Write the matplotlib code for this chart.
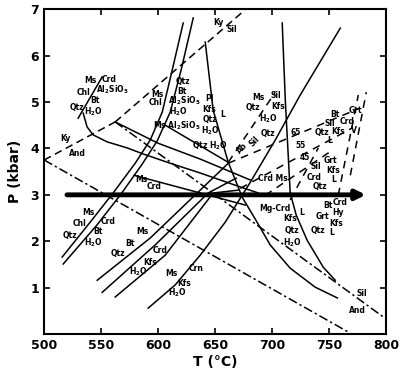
import matplotlib
matplotlib.use('Agg')
import matplotlib.pyplot as plt

plt.rcParams['font.family'] = ['Liberation Sans Narrow', 'DejaVu Sans Condensed', 'DejaVu Sans']
plt.rcParams['font.weight'] = 'bold'
plt.rcParams['mathtext.default'] = 'regular'

# aluminosilicate reactions (T in C, P in kbar)
ky_and_T = [500, 562.3]
ky_and_P = [3.75, 4.57]
ky_sil_T = [562.3, 676]
ky_sil_P = [4.57, 6.98]
and_sil_T = [562.3, 799]
and_sil_P = [4.57, 0.34]
and_sil2_T = [500, 767]
and_sil2_P = [3.75, 0.04]

# solid reaction curves
ms_chl_a_T = [515.8, 540.3, 560.5, 579.8, 593.0, 603.5, 612.3, 621.9]
ms_chl_a_P = [1.66, 2.41, 3.04, 3.68, 4.18, 4.78, 5.69, 6.70]
ms_chl_b_T = [516.7, 545.6, 567.5, 585.9, 599.1, 610.5, 620.1, 630.7]
ms_chl_b_P = [1.51, 2.33, 3.02, 3.66, 4.16, 4.78, 5.69, 6.81]
short_T = [529.8, 550.9]
short_P = [4.65, 5.54]
curve_c3_T = [534.2, 537.7, 543.0, 555.3, 572.8, 586.8, 610.5, 636.8, 671.9, 687.7]
curve_c3_P = [4.76, 4.46, 4.29, 4.14, 4.01, 3.88, 3.68, 3.47, 3.17, 3.04]
tp_line_T = [562.3, 600.0, 636.8, 680.7]
tp_line_P = [4.57, 4.11, 3.77, 3.32]
ms_al_T = [606.1, 661.4]
ms_al_P = [4.50, 3.70]
ms_crd_T = [578.9, 676.3]
ms_crd_P = [3.42, 2.78]
solidus_T = [641.2, 648.2, 661.4, 673.6, 685.0, 698.2, 715.7, 737.7, 757.0]
solidus_P = [6.29, 4.82, 3.70, 2.95, 2.48, 1.92, 1.42, 1.01, 0.78]
crd_melt_T = [708.7, 711.4, 715.7, 721.0, 730.6, 744.7, 755.2]
crd_melt_P = [6.70, 5.04, 3.04, 2.56, 2.02, 1.44, 1.16]
ms_crn_T = [591.2, 614.9, 636.8, 658.7, 680.7, 702.6, 724.5, 759.6]
ms_crn_P = [0.56, 1.06, 1.70, 2.41, 3.27, 4.18, 5.15, 6.59]
ms_bt_1_T = [546.5, 593.0, 634.2, 661.4]
ms_bt_1_P = [1.16, 2.07, 3.04, 3.68]
ms_bt_2_T = [550.9, 597.3, 643.8, 668.4]
ms_bt_2_P = [0.90, 1.92, 3.04, 3.36]
ms_bt_3_T = [562.3, 606.1, 648.2, 670.1]
ms_bt_3_P = [0.80, 1.70, 3.04, 3.10]

# dashed (metastable / isopleth) lines
ms_sil_T = [661.4, 702.6]
ms_sil_P = [3.70, 5.21]
iso65_T = [661.4, 777.1]
iso65_P = [3.68, 4.87]
iso55_T = [671.9, 770.1]
iso55_P = [3.14, 4.44]
iso45_T = [693.8, 752.6]
iso45_P = [2.99, 3.96]
steep1_T = [715.7, 740.3]
steep1_P = [2.89, 4.01]
steep2_T = [757.8, 775.4]
steep2_P = [2.99, 5.15]
steep3_T = [768.4, 782.4]
steep3_P = [3.42, 5.21]

# path arrow at 3 kbar
arrow_T = [520, 782]
arrow_P = 3.0

# labels: (text, T, P, rotation)
H = 'H$_2$O'
A = 'Al$_2$SiO$_5$'
labels = [
    ('Ms', 540.3, 5.47, 0), ('Crd', 557.0, 5.49, 0), ('Chl', 534.2, 5.21, 0),
    (A, 560.0, 5.26, 0), ('Qtz', 528.9, 4.89, 0), ('Bt', 544.7, 5.04, 0),
    (H, 543.0, 4.78, 0), ('Ky', 518.4, 4.22, 0), ('And', 528.9, 3.90, 0),
    ('Ms', 599.1, 5.15, 0), ('Chl', 597.3, 4.98, 0), ('Qtz', 621.9, 5.43, 0),
    ('Bt', 621.0, 5.23, 0), (A, 622.5, 5.02, 0), (H, 617.5, 4.78, 0),
    ('Pl', 644.5, 5.08, 0), ('Kfs', 644.5, 4.84, 0), ('Qtz', 645.6, 4.62, 0),
    (H, 645.6, 4.39, 0), ('L', 656.1, 4.72, 0),
    ('Ms ' + A, 616.0, 4.48, 0), ('Qtz ' + H, 645.6, 4.05, 0),
    ('Ky', 652.6, 6.72, 0), ('Sil', 664.9, 6.55, 0),
    ('Ms', 687.7, 5.10, 0), ('Sil', 703.5, 5.13, 0), ('Qtz', 683.3, 4.89, 0),
    ('Kfs', 705.2, 4.91, 0), (H, 696.4, 4.63, 0),
    ('Ab', 673.6, 4.01, 45), ('Sil', 684.2, 4.14, 45), ('Qtz', 696.4, 4.33, 0),
    ('65', 720.1, 4.35, 0), ('55', 724.5, 4.07, 0), ('45', 728.9, 3.81, 0),
    ('Crd Ms', 700.8, 3.36, 0), ('Ms', 585.1, 3.32, 0), ('Crd', 596.5, 3.17, 0),
    ('Bt', 755.2, 4.74, 0), ('Grt', 772.7, 4.82, 0), ('Sil', 750.8, 4.54, 0),
    ('Crd', 765.7, 4.57, 0), ('Qtz', 743.8, 4.35, 0), ('Kfs', 757.8, 4.37, 0),
    ('L', 750.0, 4.18, 0), ('V', 771.9, 4.39, 0),
    ('Grt', 750.8, 3.75, 0), ('Kfs', 753.5, 3.53, 0), ('L', 753.5, 3.32, 0),
    ('Sil', 738.5, 3.60, 0), ('Crd', 736.8, 3.38, 0), ('Qtz', 742.0, 3.19, 0),
    ('Bt', 749.1, 2.78, 0), ('Crd', 759.6, 2.84, 0), ('Hy', 757.8, 2.63, 0),
    ('Grt', 743.8, 2.54, 0), ('Kfs', 756.1, 2.39, 0), ('Qtz', 740.3, 2.24, 0),
    ('L', 751.7, 2.18, 0),
    ('Mg-Crd', 702.6, 2.71, 0), ('Kfs', 715.7, 2.50, 0), ('L', 725.4, 2.61, 0),
    ('Qtz', 717.5, 2.24, 0), (H, 717.5, 1.96, 0),
    ('Sil', 778.9, 0.88, 0), ('And', 774.5, 0.52, 0),
    ('Ms', 538.6, 2.63, 0), ('Chl', 530.7, 2.39, 0), ('Qtz', 522.8, 2.13, 0),
    ('Crd', 556.1, 2.43, 0), ('Bt', 547.4, 2.20, 0), (H, 543.0, 1.96, 0),
    ('Ms', 585.9, 2.20, 0), ('Bt', 575.4, 1.96, 0), ('Qtz', 564.9, 1.74, 0),
    ('Crd', 601.7, 1.81, 0), ('Kfs', 593.0, 1.55, 0), (H, 582.4, 1.34, 0),
    ('Ms', 611.4, 1.31, 0), ('Kfs', 622.8, 1.10, 0), (H, 616.6, 0.90, 0),
    ('Crn', 633.3, 1.42, 0),
]

fig = plt.figure(figsize=(4.05, 3.78), dpi=100)
ax = fig.add_axes([0.109, 0.116, 0.845, 0.860])

lw = 1.1
ax.plot(ky_and_T, ky_and_P, color='k', lw=lw, dashes=(5, 3))
ax.plot(ky_sil_T, ky_sil_P, color='k', lw=lw, dashes=(5, 3))
ax.plot(and_sil_T, and_sil_P, color='k', lw=lw, dashes=(6, 2, 1.5, 2))
ax.plot(and_sil2_T, and_sil2_P, color='k', lw=lw, dashes=(6, 2, 1.5, 2))

for T, P in [(ms_chl_a_T, ms_chl_a_P), (ms_chl_b_T, ms_chl_b_P), (short_T, short_P),
             (curve_c3_T, curve_c3_P), (tp_line_T, tp_line_P), (ms_al_T, ms_al_P),
             (ms_crd_T, ms_crd_P), (solidus_T, solidus_P), (crd_melt_T, crd_melt_P),
             (ms_crn_T, ms_crn_P), (ms_bt_1_T, ms_bt_1_P), (ms_bt_2_T, ms_bt_2_P),
             (ms_bt_3_T, ms_bt_3_P)]:
    ax.plot(T, P, color='k', lw=lw)

for T, P in [(ms_sil_T, ms_sil_P), (iso65_T, iso65_P), (iso55_T, iso55_P),
             (iso45_T, iso45_P), (steep1_T, steep1_P), (steep2_T, steep2_P),
             (steep3_T, steep3_P)]:
    ax.plot(T, P, color='k', lw=lw, dashes=(5, 4))

ax.annotate('', xy=(arrow_T[1], arrow_P), xytext=(arrow_T[0], arrow_P),
            arrowprops=dict(arrowstyle='-|>', lw=3.5, color='k', mutation_scale=14,
                            shrinkA=0, shrinkB=0))

for txt, T, P, rot in labels:
    ax.text(T, P, txt, fontsize=5.5, fontweight='bold', ha='center', va='center',
            rotation=rot)

ax.set_xlim(500, 800)
ax.set_ylim(0, 7)
ax.set_xticks([500, 550, 600, 650, 700, 750, 800])
ax.set_yticks([1, 2, 3, 4, 5, 6, 7])
ax.tick_params(direction='in', top=True, right=True, length=4, width=1.2,
               labelsize=9)
for lab in ax.get_xticklabels() + ax.get_yticklabels():
    lab.set_fontweight('bold')
for s in ax.spines.values():
    s.set_linewidth(1.5)
ax.set_xlabel('T (°C)', fontsize=10, fontweight='bold', labelpad=2)
ax.set_ylabel('P (kbar)', fontsize=10, fontweight='bold', labelpad=6)

fig.savefig('out.png', dpi=100)
